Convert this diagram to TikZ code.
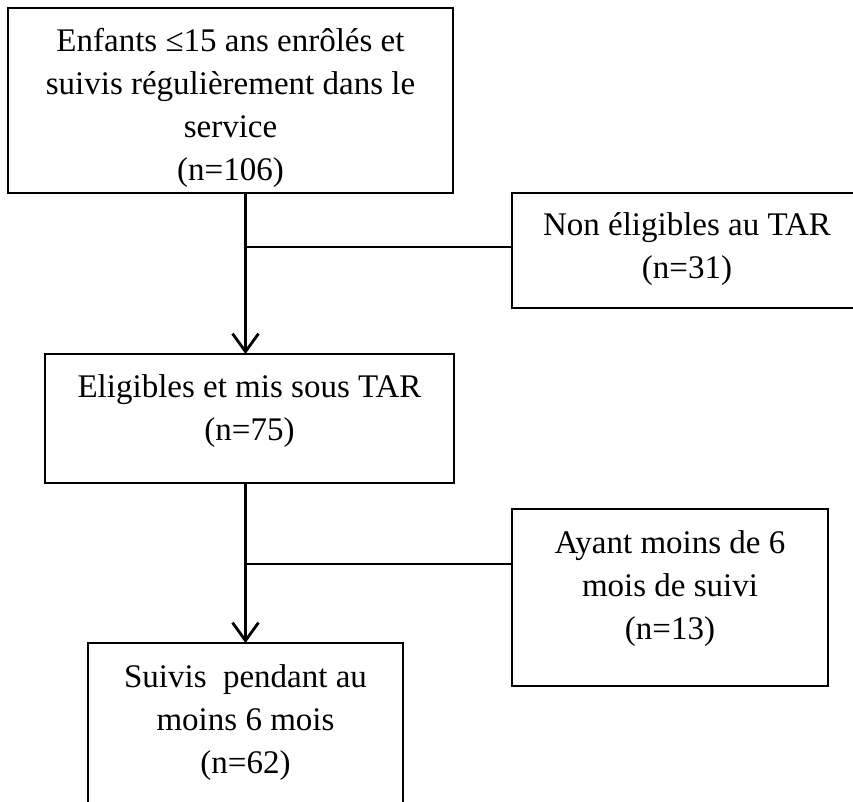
\documentclass[tikz,border=0pt]{standalone}
\usepackage{fontspec}
\setmainfont{Liberation Serif}
\usetikzlibrary{arrows.meta,positioning}

\begin{document}
\begin{tikzpicture}[x=1pt,y=-1pt,
    box/.style={draw=black,line width=2pt,inner sep=0pt,outer sep=0pt,
      anchor=north west},
    txt/.style={align=center,inner sep=0pt,
      font=\fontsize{33}{43}\selectfont},
    flow/.style={line width=3pt,
      -{Straight Barb[length=18pt,width=26pt,line width=2.8pt]}},
    link/.style={line width=2pt}]

      \clip (0,0) rectangle (853,802);
      \useasboundingbox (0,0) rectangle (853,802);

      % BOXES
      \node[box,minimum width=445pt,minimum height=185pt] (b1) at (8,8) {};
      \node[box,minimum width=350pt,minimum height=115pt] (b2) at (512,193) {};
      \node[box,minimum width=409pt,minimum height=129pt] (b3) at (45,354) {};
      \node[box,minimum width=316pt,minimum height=177pt] (b4) at (512,509) {};
      \node[box,minimum width=315pt,minimum height=160pt] (b5) at (88,643) {};

      % TEXT
      \node[txt,below=20pt of b1.north] (t1)
      {Enfants ≤15 ans enrôlés et\\ suivis régulièrement dans le\\
        service\\ (n=106)};
      \node[txt,below=19pt of b2.north] (t2)
      {Non éligibles au TAR\\ (n=31)};
      \node[txt,below=20pt of b3.north] (t3)
      {Eligibles et mis sous TAR\\ (n=75)};
      \node[txt,below=21pt of b4.north] (t4)
      {Ayant moins de 6\\ mois de suivi\\ (n=13)};
      \node[txt,below=21pt of b5.north] (t5)
      {Suivis~ pendant au\\ moins 6 mois\\ (n=62)};

      % junctions
      \coordinate (j1) at (245,247);
      \coordinate (j2) at (245,564);

      % arrows
      \draw[flow] (b1.south -| b5.north) -- (b3.north -| b5.north);
      \draw[flow] (b3.south -| b5.north) -- (b5.north);
      \draw[link] (j1) -- (j1 -| b2.west);
      \draw[link] (j2) -- (j2 -| b4.west);

\end{tikzpicture}
\end{document}
